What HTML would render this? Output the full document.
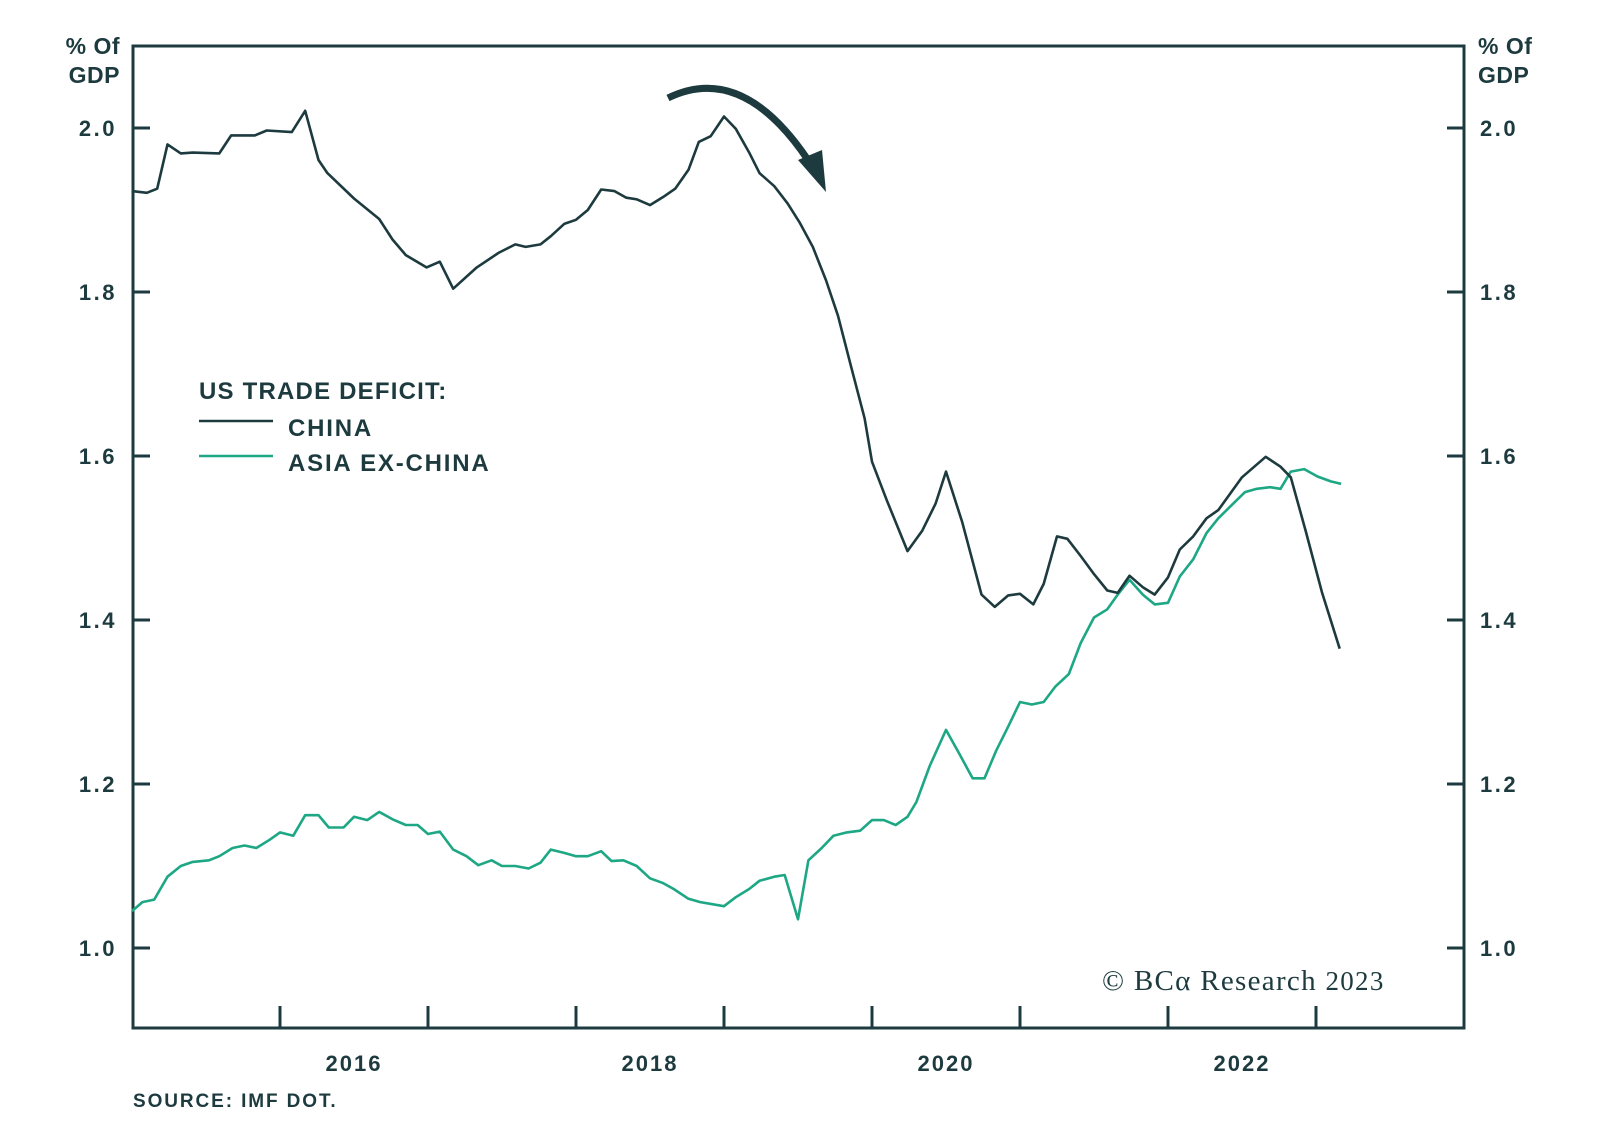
<!DOCTYPE html>
<html><head><meta charset="utf-8"><style>
body{margin:0;background:#fff;}
svg{display:block;font-family:"Liberation Sans",sans-serif;}
</style></head><body>
<svg width="1600" height="1137" viewBox="0 0 1600 1137">
<g id="axes"></g>
<g id="series"></g>
<text x="120" y="54" text-anchor="end" font-size="23" font-weight="bold" fill="#1d3b3f" letter-spacing="0.5">% Of</text>
<text x="120" y="83" text-anchor="end" font-size="23" font-weight="bold" fill="#1d3b3f" letter-spacing="0.5">GDP</text>
<text x="1478" y="54" font-size="23" font-weight="bold" fill="#1d3b3f" letter-spacing="0.5">% Of</text>
<text x="1478" y="83" font-size="23" font-weight="bold" fill="#1d3b3f" letter-spacing="0.5">GDP</text>
<g>
<text x="199" y="399" font-size="24" font-weight="bold" fill="#1d3b3f" letter-spacing="1.2">US TRADE DEFICIT:</text>
<line x1="199" y1="421" x2="273" y2="421" stroke="#1d3b3f" stroke-width="2.5"/>
<text x="288" y="436" font-size="24" font-weight="bold" fill="#1d3b3f" letter-spacing="1.8">CHINA</text>
<line x1="199" y1="456" x2="273" y2="456" stroke="#1ea784" stroke-width="2.5"/>
<text x="288" y="471" font-size="24" font-weight="bold" fill="#1d3b3f" letter-spacing="1.8">ASIA EX-CHINA</text>
</g>
<path d="M668,98 Q742,62 808,160" fill="none" stroke="#1d3b3f" stroke-width="7"/>
<polygon points="798,160 822,150 826,192" fill="#1d3b3f"/>
<text x="1102" y="990" font-family="Liberation Serif,serif" font-size="29" fill="#1d3b3f" letter-spacing="1.3">© BCα Research <tspan font-size="27">2023</tspan></text>
<text x="133" y="1107" font-size="19" font-weight="bold" fill="#1d3b3f" letter-spacing="1.9">SOURCE: IMF DOT.</text>
</svg>
<script>
const yTicks=[1.0,1.2,1.4,1.6,1.8,2.0];
const yTickLabels=["1.0","1.2","1.4","1.6","1.8","2.0"];
const xTicks=[2016,2017,2018,2019,2020,2021,2022,2023];
const xLabels=[2016,2018,2020,2022];
const chinaDates=[2015.00,2015.10,2015.17,2015.24,2015.33,2015.41,2015.59,2015.67,2015.83,2015.91,
2016.08,2016.17,2016.26,2016.32,2016.50,2016.67,2016.76,2016.85,2016.99,2017.08,
2017.17,2017.33,2017.48,2017.59,2017.66,2017.76,2017.83,2017.92,2018.00,2018.08,
2018.17,2018.26,2018.34,2018.41,2018.50,2018.59,2018.67,2018.76,2018.83,2018.91,
2019.00,2019.08,2019.17,2019.24,2019.34,2019.43,2019.51,2019.60,2019.69,2019.77,
2019.86,2019.95,2020.00,2020.10,2020.24,2020.34,2020.43,2020.50,2020.61,2020.74,
2020.83,2020.92,2021.00,2021.09,2021.16,2021.25,2021.32,2021.41,2021.50,2021.59,
2021.66,2021.74,2021.83,2021.91,2022.00,2022.08,2022.17,2022.26,2022.34,2022.50,
2022.66,2022.76,2022.83,2022.93,2023.04,2023.16];
const chinaValues=[1.923,1.921,1.926,1.98,1.969,1.970,1.969,1.991,1.991,1.997,
1.995,2.021,1.961,1.945,1.914,1.889,1.864,1.845,1.83,1.837,
1.804,1.83,1.848,1.858,1.855,1.858,1.868,1.883,1.888,1.9,
1.925,1.923,1.915,1.913,1.906,1.916,1.926,1.949,1.983,1.99,
2.014,1.999,1.97,1.945,1.929,1.908,1.885,1.855,1.814,1.771,
1.708,1.646,1.593,1.546,1.484,1.509,1.542,1.581,1.519,1.431,
1.416,1.43,1.432,1.419,1.444,1.502,1.499,1.478,1.456,1.436,
1.433,1.454,1.44,1.431,1.452,1.486,1.502,1.524,1.534,1.574,
1.599,1.587,1.574,1.509,1.434,1.365];
const asiaDates=[2015.00,2015.07,2015.15,2015.24,2015.33,2015.41,2015.52,2015.59,2015.68,2015.76,
2015.84,2015.93,2016.00,2016.09,2016.17,2016.26,2016.33,2016.43,2016.50,2016.59,
2016.67,2016.76,2016.85,2016.93,2017.00,2017.08,2017.17,2017.26,2017.34,2017.43,
2017.50,2017.59,2017.68,2017.76,2017.83,2017.92,2018.00,2018.08,2018.17,2018.24,
2018.32,2018.41,2018.50,2018.59,2018.66,2018.76,2018.84,2019.00,2019.08,2019.17,
2019.24,2019.34,2019.41,2019.50,2019.57,2019.66,2019.74,2019.83,2019.92,2020.00,
2020.08,2020.16,2020.24,2020.30,2020.39,2020.50,2020.59,2020.68,2020.76,2020.84,
2020.92,2021.00,2021.08,2021.16,2021.24,2021.33,2021.41,2021.50,2021.59,2021.66,
2021.74,2021.83,2021.91,2022.00,2022.08,2022.17,2022.26,2022.34,2022.43,2022.52,
2022.60,2022.69,2022.76,2022.83,2022.92,2023.01,2023.10,2023.17];
const asiaValues=[1.045,1.056,1.059,1.087,1.1,1.105,1.107,1.112,1.122,1.125,
1.122,1.132,1.141,1.137,1.162,1.162,1.147,1.147,1.16,1.156,
1.166,1.157,1.15,1.15,1.139,1.142,1.12,1.112,1.101,1.107,
1.1,1.1,1.097,1.104,1.12,1.116,1.112,1.112,1.118,1.106,
1.107,1.1,1.085,1.079,1.072,1.06,1.056,1.051,1.062,1.072,
1.082,1.087,1.089,1.035,1.107,1.122,1.137,1.141,1.143,1.156,
1.156,1.15,1.16,1.178,1.222,1.266,1.237,1.207,1.207,1.241,
1.27,1.3,1.297,1.3,1.319,1.334,1.372,1.403,1.413,1.431,
1.449,1.431,1.419,1.421,1.453,1.474,1.506,1.524,1.54,1.556,
1.56,1.562,1.56,1.581,1.584,1.575,1.569,1.566];

const NS="http://www.w3.org/2000/svg";
const L=133,R=1464,T=46,B=1028;
const ink="#1d3b3f";
function xs(t){return 280+(t-2016)*148;}
function ys(v){return 128+(2.0-v)*820;}
function mk(tag,attrs,parent){const e=document.createElementNS(NS,tag);for(const k in attrs)e.setAttribute(k,attrs[k]);parent.appendChild(e);return e;}
const axes=document.getElementById('axes');
const frame=mk('rect',{x:L,y:T,width:R-L,height:B-T,fill:'none',stroke:ink,'stroke-width':3},axes);


yTicks.forEach((v,i)=>{
  const y=ys(v);
  const t1=mk('line',{x1:L,x2:L+17,y1:y,y2:y,stroke:ink,'stroke-width':3},axes);
  
  
  const t2=mk('line',{x1:R-17,x2:R,y1:y,y2:y,stroke:ink,'stroke-width':3},axes);
  
  
  const a=mk('text',{x:117,y:y+8,'text-anchor':'end','font-size':22,'font-weight':'bold',fill:ink,'letter-spacing':2.5},axes);
  a.textContent=yTickLabels[i];
  
  
  const b=mk('text',{x:1480,y:y+8,'font-size':22,'font-weight':'bold',fill:ink,'letter-spacing':2.5},axes);
  b.textContent=yTickLabels[i];
  
  
});
xTicks.forEach(t=>{
  const x=xs(t);
  const l=mk('line',{x1:x,x2:x,y1:B-22,y2:B,stroke:ink,'stroke-width':3},axes);
  
  
});
xLabels.forEach(t=>{
  const e=mk('text',{x:xs(t+0.5),y:1071,'text-anchor':'middle','font-size':22,'font-weight':'bold',fill:ink,'letter-spacing':2},axes);
  e.textContent=String(t);
  
  
});
const ser=document.getElementById('series');
function line(d,v,color,name){
  const pts=d.map((t,i)=>xs(t).toFixed(1)+','+ys(v[i]).toFixed(1)).join(' ');
  const p=mk('polyline',{points:pts,fill:'none',stroke:color,'stroke-width':2.6,'stroke-linejoin':'round'},ser);
  
  
}
line(asiaDates,asiaValues,'#1ea784','asia-ex-china-line');
line(chinaDates,chinaValues,ink,'china-line');
</script>
</body></html>
